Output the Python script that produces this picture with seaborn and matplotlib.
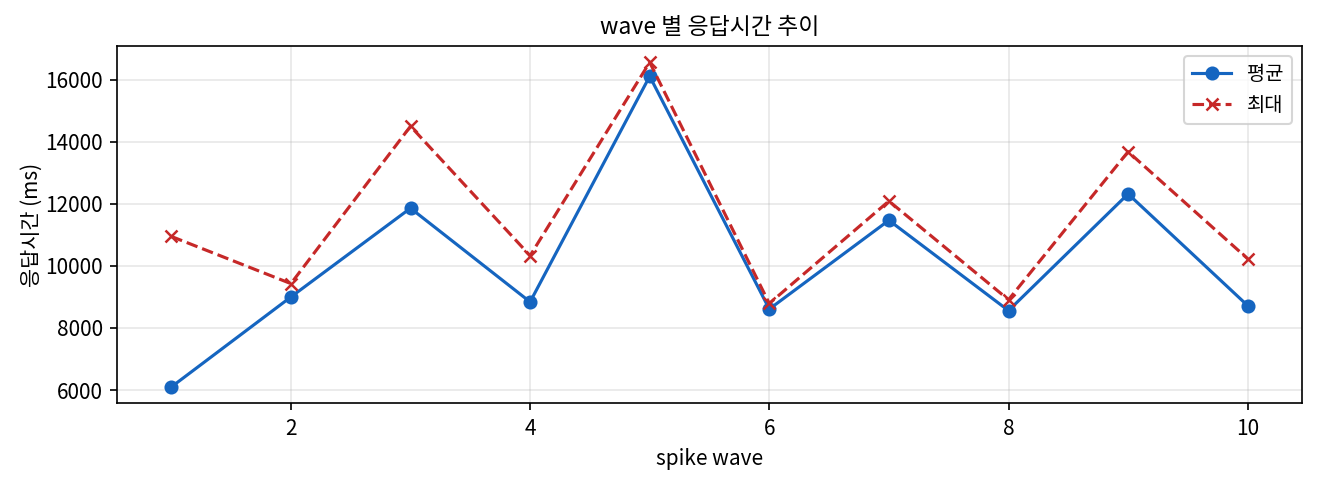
import pandas as pd
import matplotlib
matplotlib.use("Agg")
import matplotlib.pyplot as plt
import seaborn as sns

# 웨이브별 응답시간 (ms)
waves = [1, 2, 3, 4, 5, 6, 7, 8, 9, 10]
avg_ms = [6100, 9000, 11860, 8840, 16110, 8610, 11470, 8560, 12320, 8720]
max_ms = [10950, 9430, 14500, 10330, 16560, 8790, 12090, 8910, 13680, 10230]

plt.rcParams['font.family'] = ['Noto Sans CJK KR', 'DejaVu Sans']
plt.rcParams['axes.unicode_minus'] = False

df = pd.DataFrame({'wave': waves, '평균': avg_ms, '최대': max_ms})

fig, ax = plt.subplots(figsize=(8.8, 3.2), dpi=150)
sns.lineplot(data=df, x='wave', y='평균', marker='o', color='#1565C0',
             markeredgecolor='#1565C0', markersize=6, linewidth=1.5,
             label='평균', ax=ax)
sns.lineplot(data=df, x='wave', y='최대', marker='x', color='#C62828',
             markeredgecolor='#C62828', markeredgewidth=1.2,
             linestyle='--', markersize=6, linewidth=1.5, label='최대', ax=ax)

ax.set_title('wave 별 응답시간 추이', fontsize=11)
ax.set_xlabel('spike wave', fontsize=10)
ax.set_ylabel('응답시간 (ms)', fontsize=10, labelpad=1)
ax.tick_params(labelsize=10)
ax.grid(True, alpha=0.3)
ax.legend(loc='upper right', fontsize=9.5)

fig.subplots_adjust(left=0.089, right=0.986, top=0.904, bottom=0.160)
plt.savefig('out.png', dpi=150)
